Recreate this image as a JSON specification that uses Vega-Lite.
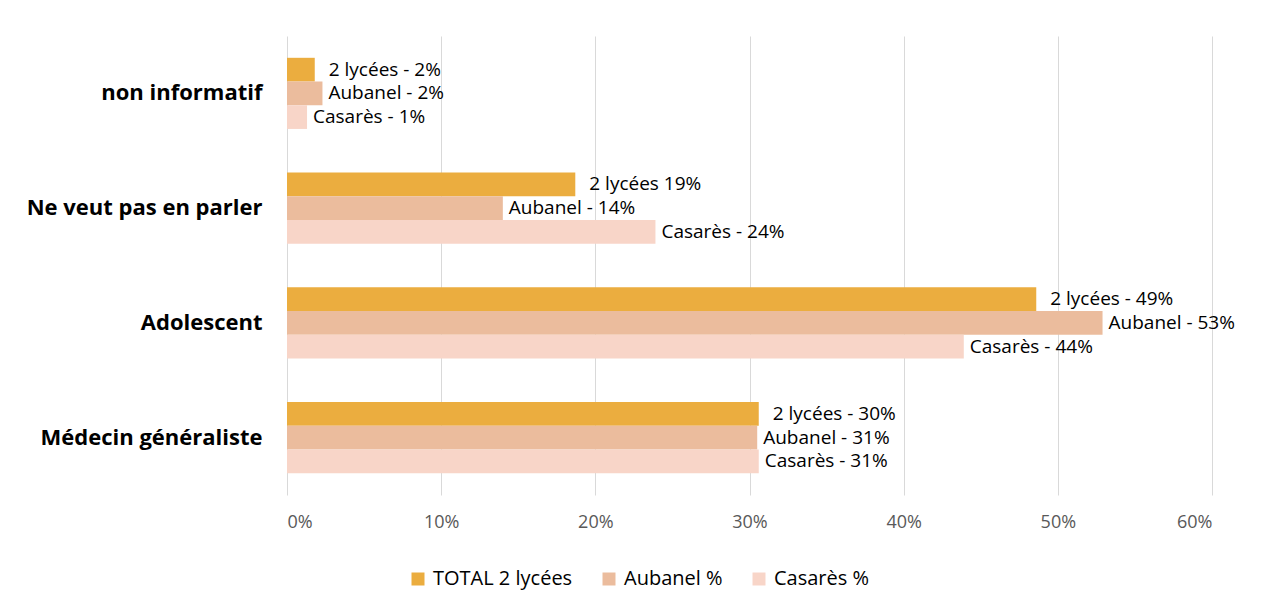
{
  "$schema": "https://vega.github.io/schema/vega-lite/v6.json",
  "autosize": "none",
  "padding": {"left": 287, "top": 36, "right": 52, "bottom": 118},
  "width": 925,
  "height": 459,
  "background": "white",
  "config": {
    "view": {"stroke": null},
    "font": "Open Sans"
  },
  "data": {
    "values": [
      {"cat": "non informatif", "series": "TOTAL 2 lycées", "v": 0.018, "label": "2 lycées - 2%"},
      {"cat": "non informatif", "series": "Aubanel %", "v": 0.023, "label": "Aubanel - 2%"},
      {"cat": "non informatif", "series": "Casarès %", "v": 0.013, "label": "Casarès - 1%"},
      {"cat": "Ne veut pas en parler", "series": "TOTAL 2 lycées", "v": 0.187, "label": "2 lycées 19%"},
      {"cat": "Ne veut pas en parler", "series": "Aubanel %", "v": 0.140, "label": "Aubanel - 14%"},
      {"cat": "Ne veut pas en parler", "series": "Casarès %", "v": 0.239, "label": "Casarès - 24%"},
      {"cat": "Adolescent", "series": "TOTAL 2 lycées", "v": 0.486, "label": "2 lycées - 49%"},
      {"cat": "Adolescent", "series": "Aubanel %", "v": 0.529, "label": "Aubanel - 53%"},
      {"cat": "Adolescent", "series": "Casarès %", "v": 0.439, "label": "Casarès - 44%"},
      {"cat": "Médecin généraliste", "series": "TOTAL 2 lycées", "v": 0.306, "label": "2 lycées - 30%"},
      {"cat": "Médecin généraliste", "series": "Aubanel %", "v": 0.305, "label": "Aubanel - 31%"},
      {"cat": "Médecin généraliste", "series": "Casarès %", "v": 0.306, "label": "Casarès - 31%"}
    ]
  },
  "encoding": {
    "y": {
      "field": "cat", "type": "nominal",
      "sort": ["non informatif", "Ne veut pas en parler", "Adolescent", "Médecin généraliste"],
      "scale": {"paddingInner": 0.38, "paddingOuter": 0.19},
      "axis": {
        "title": null, "domain": false, "ticks": false, "labelPadding": 25,
        "labelFontSize": 22, "labelFontWeight": "bold", "labelColor": "#000000",
        "labelLimit": 400
      }
    },
    "yOffset": {
      "field": "series", "type": "nominal",
      "sort": ["TOTAL 2 lycées", "Aubanel %", "Casarès %"],
      "scale": {"paddingInner": 0, "paddingOuter": 0}
    },
    "x": {
      "field": "v", "type": "quantitative",
      "scale": {"domain": [0, 0.6], "nice": false},
      "axis": {
        "title": null, "format": ".0%", "values": [0, 0.1, 0.2, 0.3, 0.4, 0.5, 0.6],
        "domain": false, "ticks": false, "grid": true, "gridColor": "#D9D9D9", "gridWidth": 1,
        "labelFontSize": 18, "labelColor": "#595959", "labelPadding": 18
      }
    }
  },
  "layer": [
    {
      "mark": {"type": "bar"},
      "encoding": {
        "color": {
          "field": "series", "type": "nominal",
          "sort": ["TOTAL 2 lycées", "Aubanel %", "Casarès %"],
          "scale": {"domain": ["TOTAL 2 lycées", "Aubanel %", "Casarès %"], "range": ["#EBAD3F", "#EBBC9D", "#F8D5C8"]},
          "legend": {
            "title": null, "orient": "none", "legendX": 121, "legendY": 533, "direction": "horizontal",
            "symbolType": "square", "symbolSize": 169, "symbolStrokeWidth": 0,
            "labelFontSize": 20, "labelColor": "#000000", "columnPadding": 26,
            "labelOffset": 5
          }
        }
      }
    },
    {
      "transform": [{"filter": "datum.series === 'TOTAL 2 lycées'"}],
      "mark": {"type": "text", "align": "left", "baseline": "middle", "dx": 14, "fontSize": 19, "color": "#000000"},
      "encoding": {"text": {"field": "label"}}
    },
    {
      "transform": [{"filter": "datum.series !== 'TOTAL 2 lycées'"}],
      "mark": {"type": "text", "align": "left", "baseline": "middle", "dx": 6, "fontSize": 19, "color": "#000000"},
      "encoding": {"text": {"field": "label"}}
    }
  ]
}
